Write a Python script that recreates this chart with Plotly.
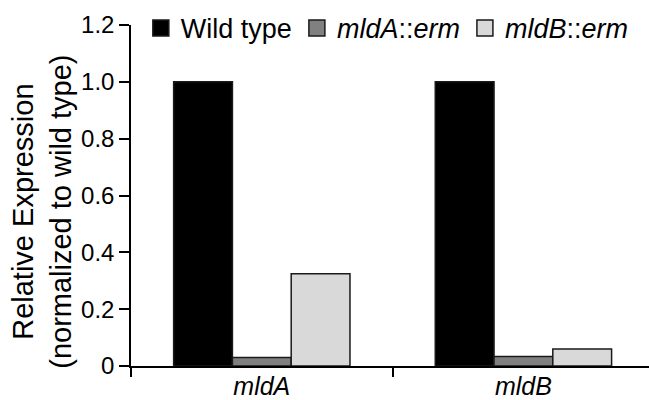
import plotly.graph_objects as go

categories = ["<i>mldA</i>", "<i>mldB</i>"]
series_names = ["Wild type", "<i>mldA</i>::<i>erm</i>", "<i>mldB</i>::<i>erm</i>"]
wild_type = [1.0, 1.0]
mldA_erm = [0.03, 0.033]
mldB_erm = [0.325, 0.06]
y_ticks = [0, 0.2, 0.4, 0.6, 0.8, 1.0, 1.2]
y_tick_labels = ["0", "0.2", "0.4", "0.6", "0.8", "1.0", "1.2"]
y_title = "Relative Expression<br>(normalized to wild type)"

colors = ["#000000", "#808080", "#d9d9d9"]
values = [wild_type, mldA_erm, mldB_erm]
FONT = "Liberation Sans, Arial, sans-serif"

fig = go.Figure()
for name, vals, col in zip(series_names, values, colors):
    fig.add_trace(go.Bar(
        x=categories, y=vals, name=name, showlegend=False,
        marker=dict(color=col, line=dict(color="#1a1a1a", width=1.5)),
    ))
for name, col in zip(series_names, colors):
    fig.add_trace(go.Scatter(
        x=[None], y=[None], name=name, mode="markers",
        marker=dict(symbol="square", size=16, color=col,
                    line=dict(color="#1a1a1a", width=1.5)),
    ))

fig.update_layout(
    width=649, height=400,
    margin=dict(l=131, r=0, t=25, b=34),
    paper_bgcolor="white", plot_bgcolor="white",
    barmode="group", bargap=0.326, bargroupgap=0,
    font=dict(family=FONT, size=25, color="black"),
    legend=dict(orientation="h", x=0.019, xanchor="left", y=0.99, yanchor="middle",
                bgcolor="rgba(0,0,0,0)", font=dict(size=27), itemclick=False),
    showlegend=True,
    annotations=[dict(text=y_title, textangle=-90, xref="paper", yref="paper",
                      x=-0.172, y=0.452, xanchor="center", yanchor="middle",
                      showarrow=False, font=dict(size=29))],
)
fig.update_xaxes(
    range=[-0.5, 1.48], showline=True, linecolor="black", linewidth=1.5,
    ticks="outside", tickson="boundaries", ticklen=9, tickwidth=1.5, tickcolor="black",
    showgrid=False, zeroline=False, tickfont=dict(size=25), automargin=False,
    ticklabelstandoff=-3,
)
fig.update_yaxes(
    range=[0, 1.2], tickvals=y_ticks, ticktext=y_tick_labels,
    showline=True, linecolor="black", linewidth=1.5,
    ticks="outside", ticklen=10, tickwidth=1.5, tickcolor="black",
    showgrid=False, zeroline=False, tickfont=dict(size=24), automargin=False,
)

fig.write_html("out.html", config={"displayModeBar": False},
               post_script="document.body.style.margin='0';")
